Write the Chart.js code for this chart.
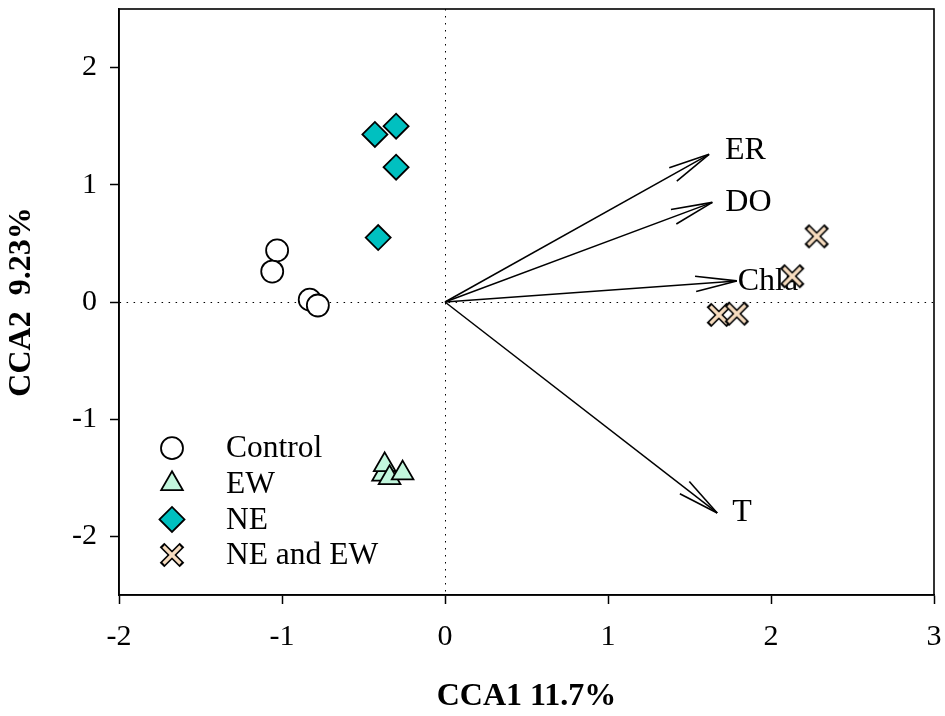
<!DOCTYPE html>
<html>
<head>
<meta charset="utf-8">
<script src="https://cdn.jsdelivr.net/npm/chart.js@4.4.1/dist/chart.umd.min.js"></script>
<style>
  html, body { margin: 0; padding: 0; background: #fff; }
  #wrap { width: 945px; height: 716px; }
</style>
</head>
<body>
<div id="wrap"><canvas id="ccaChart"></canvas></div>
<script>
// sample scores (CCA1, CCA2)
const groupNames = ['Control', 'EW', 'NE', 'NE and EW'];
const controlX = [-1.03, -1.06, -0.83, -0.78];
const controlY = [0.44, 0.26, 0.02, -0.03];
const ewX = [-0.38, -0.37, -0.34, -0.26];
const ewY = [-1.47, -1.39, -1.50, -1.46];
const neX = [-0.43, -0.30, -0.30, -0.41];
const neY = [1.43, 1.50, 1.15, 0.55];
const neEwX = [2.28, 2.13, 1.68, 1.79];
const neEwY = [0.56, 0.22, -0.11, -0.10];

// environmental vectors
const envNames = ['ER', 'DO', 'Chla', 'T'];
const envX = [1.62, 1.64, 1.79, 1.67];
const envY = [1.26, 0.85, 0.18, -1.80];

const xTicks = [-2, -1, 0, 1, 2, 3];
const yTicks = [-2, -1, 0, 1, 2];

const SERIF = '"Liberation Serif", "Times New Roman", serif';
const toPoints = (xs, ys) => xs.map((x, i) => ({ x: x, y: ys[i] }));

// outlined X marker like the original plot
function makeCross() {
  const c = document.createElement('canvas');
  c.width = 28; c.height = 28;
  const g = c.getContext('2d');
  const line = (a, b) => {
    g.beginPath(); g.moveTo(a, a); g.lineTo(b, b); g.stroke();
    g.beginPath(); g.moveTo(b, a); g.lineTo(a, b); g.stroke();
  };
  g.strokeStyle = '#000'; g.lineWidth = 6.5; line(4, 24);
  g.strokeStyle = '#f7dcbf'; g.lineWidth = 3.2; line(5.5, 22.5);
  return c;
}
const crossImg = makeCross();

const markerSets = [
  { label: groupNames[0], data: toPoints(controlX, controlY), pointStyle: 'circle', pointRadius: 11,
    backgroundColor: '#ffffff', borderColor: '#000', borderWidth: 1.8 },
  { label: groupNames[1], data: toPoints(ewX, ewY), pointStyle: 'triangle', pointRadius: 12.5,
    backgroundColor: '#c2f7dd', borderColor: '#000', borderWidth: 1.8 },
  { label: groupNames[2], data: toPoints(neX, neY), pointStyle: 'rectRot', pointRadius: 12.5,
    backgroundColor: '#00c0c0', borderColor: '#000', borderWidth: 1.8 },
  { label: groupNames[3], data: toPoints(neEwX, neEwY), pointStyle: crossImg, pointRadius: 12,
    backgroundColor: '#f7dcbf', borderColor: '#000', borderWidth: 0 }
];

const arrowSets = envNames.map((name, i) => ({
  label: name,
  isArrow: true,
  data: [{ x: 0, y: 0 }, { x: envX[i], y: envY[i] }],
  showLine: true,
  borderColor: '#000',
  borderWidth: 1.5,
  pointRadius: 0,
  pointHoverRadius: 0
}));

// label offsets from arrow tips, in pixels
const envLabelOffset = { ER: [16, -4], DO: [13, 0], Chla: [1, 1], T: [15, 0] };

const arrowPlugin = {
  id: 'arrowHeads',
  afterDatasetDraw(chart, args) {
    if (args.index !== markerSets.length) return; // after last arrow drawn, before markers
    const ctx = chart.ctx;
    ctx.save();
    ctx.strokeStyle = '#000';
    ctx.lineWidth = 1.6;
    ctx.font = '32px ' + SERIF;
    ctx.fillStyle = '#000';
    ctx.textAlign = 'left';
    ctx.textBaseline = 'middle';
    chart.data.datasets.forEach((ds, i) => {
      if (!ds.isArrow) return;
      const pts = chart.getDatasetMeta(i).data;
      const p0 = pts[0], p1 = pts[1];
      const ang = Math.atan2(p1.y - p0.y, p1.x - p0.x);
      const len = 42, spread = 0.185;
      [ang + Math.PI - spread, ang + Math.PI + spread].forEach(a => {
        ctx.beginPath();
        ctx.moveTo(p1.x, p1.y);
        ctx.lineTo(p1.x + len * Math.cos(a), p1.y + len * Math.sin(a));
        ctx.stroke();
      });
      const off = envLabelOffset[ds.label];
      ctx.fillText(ds.label, p1.x + off[0], p1.y + off[1]);
    });
    ctx.restore();
  }
};

const frameAndLegend = {
  id: 'frameAndLegend',
  afterDatasetsDraw(chart) {
    const { ctx, chartArea } = chart;
    ctx.save();
    ctx.strokeStyle = '#000';
    ctx.lineWidth = 1.6;
    ctx.strokeRect(chartArea.left, chartArea.top, chartArea.right - chartArea.left, chartArea.bottom - chartArea.top);

    ctx.font = '31.5px ' + SERIF;
    ctx.textAlign = 'left';
    ctx.textBaseline = 'middle';
    const n = markerSets.length;
    markerSets.forEach((ds, i) => {
      const y = chartArea.bottom - 40 - (n - 1 - i) * 35.6;
      const x = chartArea.left + 53;
      ctx.fillStyle = ds.backgroundColor;
      ctx.strokeStyle = ds.borderColor;
      ctx.lineWidth = ds.borderWidth;
      Chart.helpers.drawPoint(ctx, { pointStyle: ds.pointStyle, radius: ds.pointRadius, borderWidth: ds.borderWidth }, x, y);
      ctx.fillStyle = '#000';
      ctx.fillText(ds.label, chartArea.left + 107, y + 1);
    });
    ctx.restore();
  }
};

const zeroGrid = c => (c.tick && c.tick.value === 0 ? '#000' : 'rgba(0,0,0,0)');

new Chart(document.getElementById('ccaChart').getContext('2d'), {
  type: 'scatter',
  data: { datasets: markerSets.concat(arrowSets) },
  options: {
    responsive: true,
    maintainAspectRatio: false,
    animation: false,
    events: [],
    layout: { autoPadding: false, padding: { top: 9, right: 11, left: 0, bottom: 0 } },
    plugins: { legend: { display: false }, tooltip: { enabled: false } },
    scales: {
      x: {
        type: 'linear',
        min: -2, max: 3,
        afterBuildTicks: axis => { axis.ticks = xTicks.map(v => ({ value: v })); },
        afterFit: axis => { axis.height = 121; axis.paddingLeft = 0; axis.paddingRight = 0; },
        ticks: { font: { family: SERIF, size: 30 }, color: '#000', padding: 15, callback: v => String(v) },
        grid: { color: zeroGrid, lineWidth: 1, tickColor: '#000', tickLength: 9, tickWidth: 1.5 },
        border: { color: '#000', width: 1.6, dash: [1.5, 5.5] },
        title: { display: true, text: 'CCA1 11.7%', color: '#000', padding: { top: 0, bottom: 0 },
          font: { family: SERIF, size: 32, weight: 'bold' } }
      },
      y: {
        type: 'linear',
        min: -2.5, max: 2.5,
        afterBuildTicks: axis => { axis.ticks = yTicks.map(v => ({ value: v })); },
        afterFit: axis => { axis.width = 119; axis.paddingTop = 0; axis.paddingBottom = 0; },
        ticks: { font: { family: SERIF, size: 30 }, color: '#000', padding: 13, callback: v => String(v) },
        grid: { color: zeroGrid, lineWidth: 1, tickColor: '#000', tickLength: 9, tickWidth: 1.5 },
        border: { color: '#000', width: 1.6, dash: [1.5, 5.5] },
        title: { display: true, text: 'CCA2  9.23%', color: '#000', padding: { top: 3, bottom: 0 },
          font: { family: SERIF, size: 32, weight: 'bold' } }
      }
    }
  },
  plugins: [arrowPlugin, frameAndLegend]
});
</script>
</body>
</html>
